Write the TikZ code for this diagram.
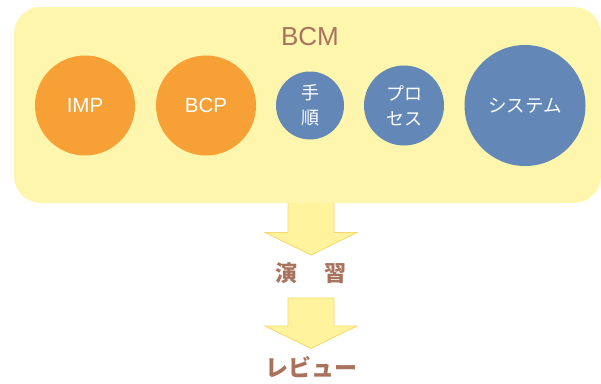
\documentclass[tikz,border=0pt]{standalone}
\usepackage{fontspec}
\setmainfont{Liberation Sans}
\newfontfamily\jp{Noto Sans CJK JP}
\definecolor{boxfill}{HTML}{FFF6AD}
\definecolor{arrfill}{HTML}{FFF39E}
\definecolor{arrline}{HTML}{F6D96A}
\definecolor{orangec}{HTML}{F7A036}
\definecolor{bluec}{HTML}{6388B8}
\definecolor{brownc}{HTML}{A8725C}
\begin{document}
\begin{tikzpicture}[x=1pt,y=-1pt,
  circ/.style={circle,inner sep=0pt,text=white,align=center},
  orangecirc/.style={circ,fill=orangec,font=\fontsize{20.5}{22}\selectfont},
  bluecirc/.style={circ,fill=bluec,font=\jp\fontsize{18}{25}\selectfont},
  label text/.style={text=brownc,inner sep=0pt},
  downarrow/.style={fill=arrfill,draw=arrline,line width=0.8pt,line join=miter}]
\useasboundingbox (0,0) rectangle (601,383);
% arrows (behind box)
\draw[downarrow] (288,196) -- (334,196) -- (334,232.5) -- (357,232.5) -- (311,255) -- (265,232.5) -- (288,232.5) -- cycle;
\draw[downarrow] (288,298) -- (334,298) -- (334,326) -- (357,326) -- (311,348.5) -- (265,326) -- (288,326) -- cycle;
% main box
\node[fill=boxfill,rounded corners=27pt,minimum width=587pt,minimum height=196pt,inner sep=0pt] (bcmbox) at (307.5,105) {};
\node[label text,font=\fontsize{26}{28}\selectfont] (bcm) at (310,37) {BCM};
\node[orangecirc,minimum size=100pt] (imp) at (85,105.5) {IMP};
\node[orangecirc,minimum size=100pt] (bcp) at (206,105.5) {BCP};
\node[bluecirc,minimum size=68pt] (tejun) at (310,105.5) {手\\順};
\node[bluecirc,minimum size=80pt] (process) at (404,105.5) {プロ\\セス};
\node[circ,fill=bluec,minimum size=121pt,font=\jp\fontsize{18.5}{20}\selectfont] (system) at (525,105.5) {システム};
\node[label text,font=\jp\bfseries\fontsize{22}{24}\selectfont] (ensyu) at (311,273) {演\hspace{28pt}習};
\node[label text,font=\jp\bfseries\fontsize{23}{26}\selectfont] (review) at (311,367) {レビュー};
\end{tikzpicture}
\end{document}
